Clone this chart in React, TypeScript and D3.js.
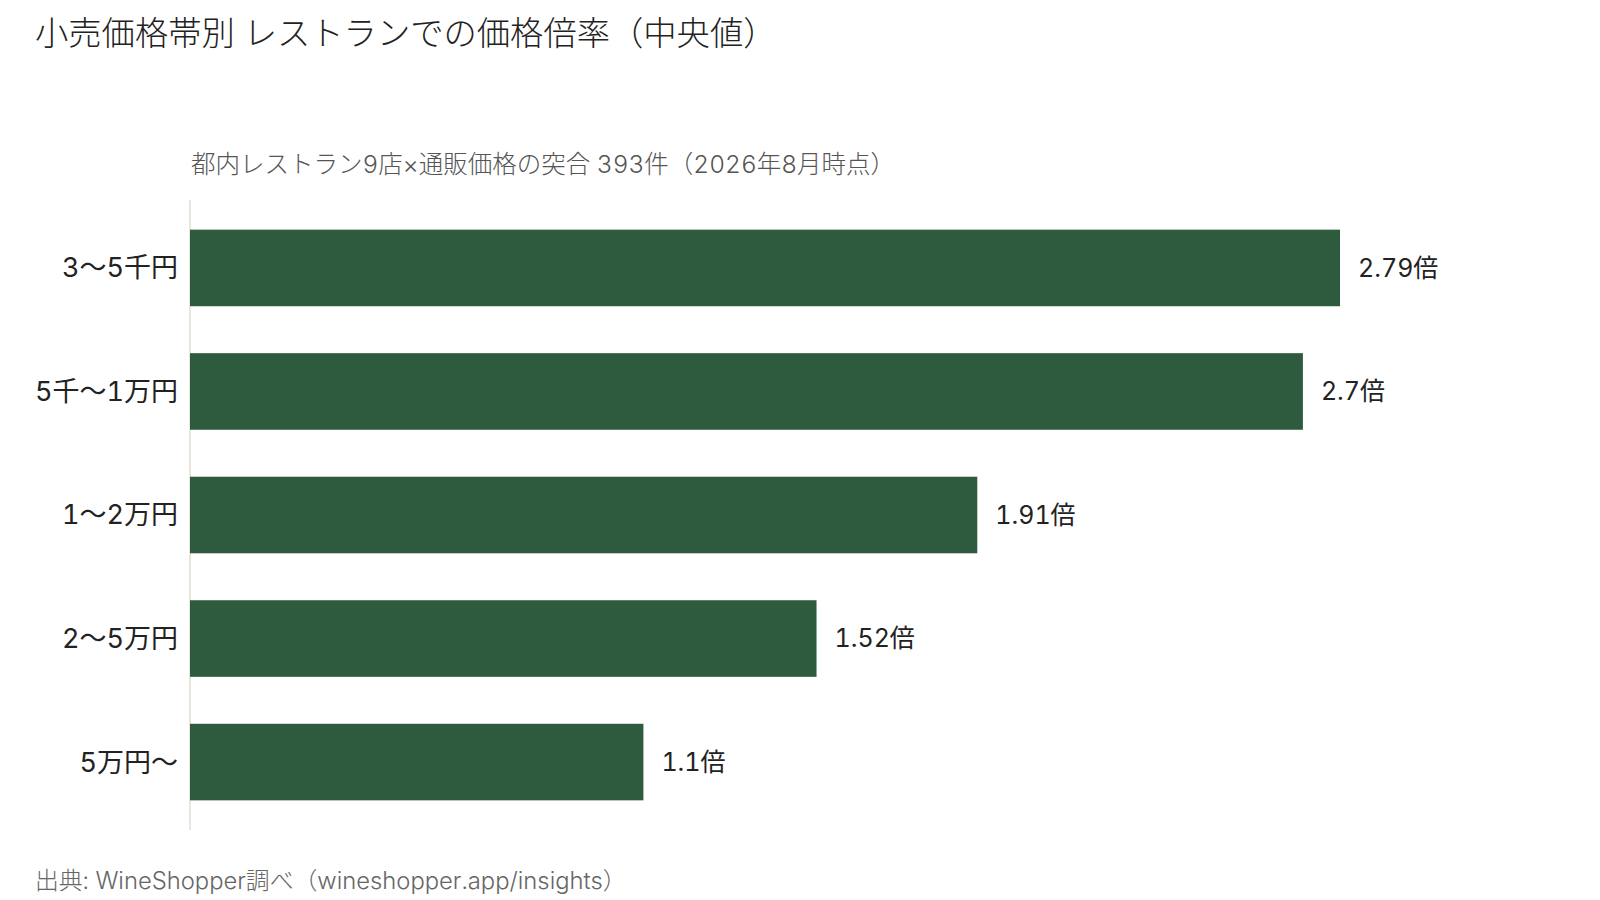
import { useEffect, useRef } from "react";
import * as d3 from "d3";

// data
const bands = ["3〜5千円", "5千〜1万円", "1〜2万円", "2〜5万円", "5万円〜"];
const ratios = [2.79, 2.7, 1.91, 1.52, 1.1];

const title = "小売価格帯別 レストランでの価格倍率（中央値）";
const subtitle = "都内レストラン9店×通販価格の突合 393件（2026年8月時点）";
const source = "出典: WineShopper調べ（wineshopper.app/insights）";

const FONT = "Inter, 'Noto Sans CJK JP', sans-serif";

export default function App() {
  const ref = useRef<SVGSVGElement | null>(null);

  useEffect(() => {
    const svgEl = ref.current;
    if (!svgEl) return;

    const width = 1600;
    const height = 900;
    const left = 190; // axis line x

    const svg = d3.select(svgEl);
    svg.selectAll("*").remove();
    svg
      .attr("width", width)
      .attr("height", height)
      .style("font-family", FONT)
      .style("font-variant-numeric", "tabular-nums");

    svg.append("rect").attr("width", width).attr("height", height).attr("fill", "#fff");

    const rows = bands.map((name, i) => ({ name, value: ratios[i] }));
    const max = d3.max(rows, (d) => d.value) ?? 1;

    const x = d3.scaleLinear().domain([0, max]).range([left, 1340]);
    const y = d3
      .scaleBand<string>()
      .domain(rows.map((d) => d.name))
      .range([200, 830])
      .paddingInner(0.38)
      .paddingOuter(0.24);

    // ------- titles -------
    svg
      .append("text")
      .attr("x", 35)
      .attr("y", 33)
      .attr("dy", "0.35em")
      .attr("font-size", 33.3)
      .attr("font-weight", 300)
      .attr("fill", "#222")
      .text(title);

    svg
      .append("text")
      .attr("x", 191)
      .attr("y", 164)
      .attr("dy", "0.35em")
      .attr("font-size", 24.5)
      .attr("font-weight", 300)
      .attr("fill", "#555")
      .text(subtitle);

    // ------- baseline -------
    svg
      .append("line")
      .attr("x1", left)
      .attr("x2", left)
      .attr("y1", 200)
      .attr("y2", 830)
      .attr("stroke", "#e2ded6")
      .attr("stroke-width", 1.5);

    // ------- bars -------
    svg
      .selectAll("rect.bar")
      .data(rows)
      .enter()
      .append("rect")
      .attr("class", "bar")
      .attr("x", x(0))
      .attr("y", (d) => y(d.name)!)
      .attr("width", (d) => x(d.value) - x(0))
      .attr("height", y.bandwidth())
      .attr("fill", "#2e5b3e");

    // category labels
    svg
      .selectAll("text.cat")
      .data(rows)
      .enter()
      .append("text")
      .attr("class", "cat")
      .attr("x", left - 12)
      .attr("y", (d) => y(d.name)! + y.bandwidth() / 2)
      .attr("dy", "0.35em")
      .attr("text-anchor", "end")
      .attr("font-size", 27)
      .attr("fill", "#222")
      .text((d) => d.name);

    // value labels
    svg
      .selectAll("text.value")
      .data(rows)
      .enter()
      .append("text")
      .attr("class", "value")
      .attr("x", (d) => x(d.value) + 18)
      .attr("y", (d) => y(d.name)! + y.bandwidth() / 2)
      .attr("dy", "0.35em")
      .attr("font-size", 25)
      .attr("fill", "#222")
      .text((d) => `${d.value}倍`);

    // source
    svg
      .append("text")
      .attr("x", 35)
      .attr("y", 881)
      .attr("dy", "0.35em")
      .attr("font-size", 23.8)
      .attr("font-weight", 300)
      .attr("fill", "#666")
      .text(source);
  }, []);

  return (
    <div style={{ position: "absolute", left: 0, top: 0 }}>
      <svg ref={ref} style={{ display: "block" }} />
    </div>
  );
}
